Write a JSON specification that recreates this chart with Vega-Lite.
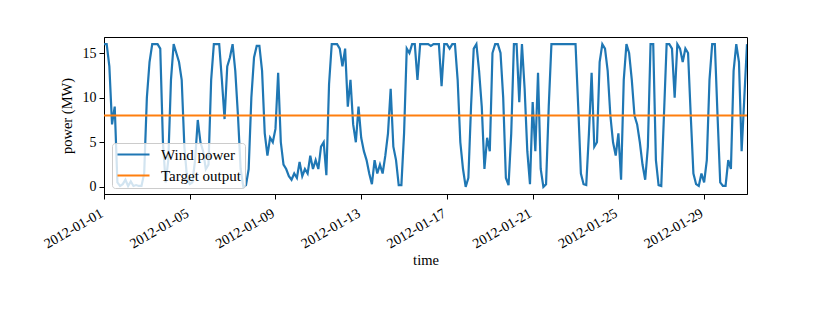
{
"$schema": "https://vega.github.io/schema/vega-lite/v6.json",
"width": 643, "height": 157,
"autosize": {"type": "none"},
"padding": {"left": 104, "top": 37, "right": 83, "bottom": 118},
"background": "white",
"config": {
  "view": {"stroke": "black", "strokeWidth": 1},
  "axis": {"grid": false, "domainColor": "black", "tickColor": "black", "labelColor": "black", "titleColor": "black",
           "labelFont": "Liberation Serif", "titleFont": "Liberation Serif", "labelFontSize": 14, "titleFontSize": 14.5,
           "titleFontWeight": "normal", "tickSize": 5, "domainWidth": 1, "tickWidth": 1},
  "legend": {"labelFont": "Liberation Serif", "labelFontSize": 15, "labelColor": "black"}
},
"layer": [
  {
    "data": {"values": [
{"t":"2012-01-01T00:00","p":16},{"t":"2012-01-01T03:00","p":16},{"t":"2012-01-01T06:00","p":13.5},{"t":"2012-01-01T09:00","p":7},{"t":"2012-01-01T12:00","p":9},{"t":"2012-01-01T15:00","p":0.5},{"t":"2012-01-01T18:00","p":0.1},{"t":"2012-01-01T21:00","p":0.3},
{"t":"2012-01-02T00:00","p":0.8},{"t":"2012-01-02T03:00","p":0.1},{"t":"2012-01-02T06:00","p":0.6},{"t":"2012-01-02T09:00","p":0.1},{"t":"2012-01-02T12:00","p":0.2},{"t":"2012-01-02T15:00","p":0.1},{"t":"2012-01-02T18:00","p":0.1},{"t":"2012-01-02T21:00","p":1.5},
{"t":"2012-01-03T00:00","p":10},{"t":"2012-01-03T03:00","p":14},{"t":"2012-01-03T06:00","p":16},{"t":"2012-01-03T09:00","p":16},{"t":"2012-01-03T12:00","p":16},{"t":"2012-01-03T15:00","p":15.5},{"t":"2012-01-03T18:00","p":5},{"t":"2012-01-03T21:00","p":0.5},
{"t":"2012-01-04T00:00","p":3},{"t":"2012-01-04T03:00","p":12},{"t":"2012-01-04T06:00","p":16},{"t":"2012-01-04T09:00","p":15},{"t":"2012-01-04T12:00","p":14},{"t":"2012-01-04T15:00","p":12},{"t":"2012-01-04T18:00","p":4.5},{"t":"2012-01-04T21:00","p":1},
{"t":"2012-01-05T00:00","p":0.3},{"t":"2012-01-05T03:00","p":0.5},{"t":"2012-01-05T06:00","p":3},{"t":"2012-01-05T09:00","p":7.5},{"t":"2012-01-05T12:00","p":5},{"t":"2012-01-05T15:00","p":4},{"t":"2012-01-05T18:00","p":2},{"t":"2012-01-05T21:00","p":2.5},
{"t":"2012-01-06T00:00","p":12},{"t":"2012-01-06T03:00","p":16},{"t":"2012-01-06T06:00","p":16},{"t":"2012-01-06T09:00","p":16},{"t":"2012-01-06T12:00","p":12},{"t":"2012-01-06T15:00","p":7.6},{"t":"2012-01-06T18:00","p":13.5},{"t":"2012-01-06T21:00","p":14.5},
{"t":"2012-01-07T00:00","p":16},{"t":"2012-01-07T03:00","p":13},{"t":"2012-01-07T06:00","p":8},{"t":"2012-01-07T09:00","p":2},{"t":"2012-01-07T12:00","p":0},{"t":"2012-01-07T15:00","p":0.2},{"t":"2012-01-07T18:00","p":2},{"t":"2012-01-07T21:00","p":10},
{"t":"2012-01-08T00:00","p":14.5},{"t":"2012-01-08T03:00","p":15.8},{"t":"2012-01-08T06:00","p":15.8},{"t":"2012-01-08T09:00","p":13},{"t":"2012-01-08T12:00","p":6},{"t":"2012-01-08T15:00","p":3.5},{"t":"2012-01-08T18:00","p":5.5},{"t":"2012-01-08T21:00","p":5},
{"t":"2012-01-09T00:00","p":6.5},{"t":"2012-01-09T03:00","p":12.8},{"t":"2012-01-09T06:00","p":5},{"t":"2012-01-09T09:00","p":2.5},{"t":"2012-01-09T12:00","p":2},{"t":"2012-01-09T15:00","p":1.2},{"t":"2012-01-09T18:00","p":0.8},{"t":"2012-01-09T21:00","p":1.5},
{"t":"2012-01-10T00:00","p":1},{"t":"2012-01-10T03:00","p":2.8},{"t":"2012-01-10T06:00","p":1.2},{"t":"2012-01-10T09:00","p":2},{"t":"2012-01-10T12:00","p":1.5},{"t":"2012-01-10T15:00","p":3.5},{"t":"2012-01-10T18:00","p":2},{"t":"2012-01-10T21:00","p":3},
{"t":"2012-01-11T00:00","p":2},{"t":"2012-01-11T03:00","p":4.5},{"t":"2012-01-11T06:00","p":5},{"t":"2012-01-11T09:00","p":1.3},{"t":"2012-01-11T12:00","p":11.5},{"t":"2012-01-11T15:00","p":16},{"t":"2012-01-11T18:00","p":16},{"t":"2012-01-11T21:00","p":16},
{"t":"2012-01-12T00:00","p":15.5},{"t":"2012-01-12T03:00","p":13.5},{"t":"2012-01-12T06:00","p":15.5},{"t":"2012-01-12T09:00","p":9},{"t":"2012-01-12T12:00","p":12},{"t":"2012-01-12T15:00","p":7},{"t":"2012-01-12T18:00","p":5},{"t":"2012-01-12T21:00","p":9},
{"t":"2012-01-13T00:00","p":5.5},{"t":"2012-01-13T03:00","p":4},{"t":"2012-01-13T06:00","p":3},{"t":"2012-01-13T09:00","p":1.5},{"t":"2012-01-13T12:00","p":0.3},{"t":"2012-01-13T15:00","p":3},{"t":"2012-01-13T18:00","p":1.5},{"t":"2012-01-13T21:00","p":2.5},
{"t":"2012-01-14T00:00","p":1.5},{"t":"2012-01-14T03:00","p":3.5},{"t":"2012-01-14T06:00","p":6},{"t":"2012-01-14T09:00","p":11},{"t":"2012-01-14T12:00","p":4.5},{"t":"2012-01-14T15:00","p":3},{"t":"2012-01-14T18:00","p":0.2},{"t":"2012-01-14T21:00","p":0.2},
{"t":"2012-01-15T00:00","p":6},{"t":"2012-01-15T03:00","p":15.5},{"t":"2012-01-15T06:00","p":15},{"t":"2012-01-15T09:00","p":16},{"t":"2012-01-15T12:00","p":16},{"t":"2012-01-15T15:00","p":12},{"t":"2012-01-15T18:00","p":16},{"t":"2012-01-15T21:00","p":16},
{"t":"2012-01-16T00:00","p":16},{"t":"2012-01-16T03:00","p":16},{"t":"2012-01-16T06:00","p":15.8},{"t":"2012-01-16T09:00","p":16},{"t":"2012-01-16T12:00","p":16},{"t":"2012-01-16T15:00","p":16},{"t":"2012-01-16T18:00","p":11.3},{"t":"2012-01-16T21:00","p":16},
{"t":"2012-01-17T00:00","p":16},{"t":"2012-01-17T03:00","p":15.5},{"t":"2012-01-17T06:00","p":16},{"t":"2012-01-17T09:00","p":16},{"t":"2012-01-17T12:00","p":12},{"t":"2012-01-17T15:00","p":5},{"t":"2012-01-17T18:00","p":2},{"t":"2012-01-17T21:00","p":0},
{"t":"2012-01-18T00:00","p":1},{"t":"2012-01-18T03:00","p":9},{"t":"2012-01-18T06:00","p":15.5},{"t":"2012-01-18T09:00","p":16},{"t":"2012-01-18T12:00","p":13},{"t":"2012-01-18T15:00","p":9},{"t":"2012-01-18T18:00","p":2},{"t":"2012-01-18T21:00","p":5.5},
{"t":"2012-01-19T00:00","p":4},{"t":"2012-01-19T03:00","p":15},{"t":"2012-01-19T06:00","p":16},{"t":"2012-01-19T09:00","p":16},{"t":"2012-01-19T12:00","p":15},{"t":"2012-01-19T15:00","p":10},{"t":"2012-01-19T18:00","p":1},{"t":"2012-01-19T21:00","p":0.2},
{"t":"2012-01-20T00:00","p":6},{"t":"2012-01-20T03:00","p":16},{"t":"2012-01-20T06:00","p":16},{"t":"2012-01-20T09:00","p":9.5},{"t":"2012-01-20T12:00","p":16},{"t":"2012-01-20T15:00","p":11},{"t":"2012-01-20T18:00","p":4},{"t":"2012-01-20T21:00","p":0.3},
{"t":"2012-01-21T00:00","p":9.5},{"t":"2012-01-21T03:00","p":4},{"t":"2012-01-21T06:00","p":12.8},{"t":"2012-01-21T09:00","p":2},{"t":"2012-01-21T12:00","p":0},{"t":"2012-01-21T15:00","p":0.3},{"t":"2012-01-21T18:00","p":9},{"t":"2012-01-21T21:00","p":16},
{"t":"2012-01-22T00:00","p":16},{"t":"2012-01-22T03:00","p":16},{"t":"2012-01-22T06:00","p":16},{"t":"2012-01-22T09:00","p":16},{"t":"2012-01-22T12:00","p":16},{"t":"2012-01-22T15:00","p":16},{"t":"2012-01-22T18:00","p":16},{"t":"2012-01-22T21:00","p":16},
{"t":"2012-01-23T00:00","p":16},{"t":"2012-01-23T03:00","p":9},{"t":"2012-01-23T06:00","p":1.5},{"t":"2012-01-23T09:00","p":0.3},{"t":"2012-01-23T12:00","p":0.2},{"t":"2012-01-23T15:00","p":6},{"t":"2012-01-23T18:00","p":12.8},{"t":"2012-01-23T21:00","p":4.5},
{"t":"2012-01-24T00:00","p":5},{"t":"2012-01-24T03:00","p":14},{"t":"2012-01-24T06:00","p":16},{"t":"2012-01-24T09:00","p":15.5},{"t":"2012-01-24T12:00","p":13},{"t":"2012-01-24T15:00","p":8},{"t":"2012-01-24T18:00","p":5},{"t":"2012-01-24T21:00","p":3.5},
{"t":"2012-01-25T00:00","p":6},{"t":"2012-01-25T03:00","p":0.8},{"t":"2012-01-25T06:00","p":12},{"t":"2012-01-25T09:00","p":16},{"t":"2012-01-25T12:00","p":15},{"t":"2012-01-25T15:00","p":12},{"t":"2012-01-25T18:00","p":8},{"t":"2012-01-25T21:00","p":7},
{"t":"2012-01-26T00:00","p":5},{"t":"2012-01-26T03:00","p":2.5},{"t":"2012-01-26T06:00","p":0.8},{"t":"2012-01-26T09:00","p":4.5},{"t":"2012-01-26T12:00","p":16},{"t":"2012-01-26T15:00","p":16},{"t":"2012-01-26T18:00","p":3},{"t":"2012-01-26T21:00","p":0.2},
{"t":"2012-01-27T00:00","p":0.1},{"t":"2012-01-27T03:00","p":8},{"t":"2012-01-27T06:00","p":16},{"t":"2012-01-27T09:00","p":16},{"t":"2012-01-27T12:00","p":15.5},{"t":"2012-01-27T15:00","p":10},{"t":"2012-01-27T18:00","p":16},{"t":"2012-01-27T21:00","p":15.5},
{"t":"2012-01-28T00:00","p":14},{"t":"2012-01-28T03:00","p":15.5},{"t":"2012-01-28T06:00","p":15},{"t":"2012-01-28T09:00","p":8},{"t":"2012-01-28T12:00","p":1.5},{"t":"2012-01-28T15:00","p":0.3},{"t":"2012-01-28T18:00","p":0.1},{"t":"2012-01-28T21:00","p":1.5},
{"t":"2012-01-29T00:00","p":0.5},{"t":"2012-01-29T03:00","p":3},{"t":"2012-01-29T06:00","p":12},{"t":"2012-01-29T09:00","p":16},{"t":"2012-01-29T12:00","p":16},{"t":"2012-01-29T15:00","p":8},{"t":"2012-01-29T18:00","p":0.5},{"t":"2012-01-29T21:00","p":0.1},
{"t":"2012-01-30T00:00","p":0.1},{"t":"2012-01-30T03:00","p":3},{"t":"2012-01-30T06:00","p":2},{"t":"2012-01-30T09:00","p":13},{"t":"2012-01-30T12:00","p":16},{"t":"2012-01-30T15:00","p":14},{"t":"2012-01-30T18:00","p":4},{"t":"2012-01-30T21:00","p":10},
{"t":"2012-01-31T00:00","p":16}
    ]},
    "mark": {"type": "line", "strokeWidth": 2.2, "clip": true},
    "encoding": {
      "x": {"field": "t", "type": "temporal",
            "scale": {"domain": [{"year": 2012, "month": 1, "date": 1}, {"year": 2012, "month": 1, "date": 31}], "nice": false},
            "axis": {"title": "time", "format": "%Y-%m-%d", "labelAngle": -30, "labelAlign": "right", "labelBaseline": "top",
                     "labelPadding": 7, "labelOffset": -6, "titlePadding": 3,
                     "values": [{"year": 2012, "month": 1, "date": 1}, {"year": 2012, "month": 1, "date": 5}, {"year": 2012, "month": 1, "date": 9},
                                {"year": 2012, "month": 1, "date": 13}, {"year": 2012, "month": 1, "date": 17}, {"year": 2012, "month": 1, "date": 21},
                                {"year": 2012, "month": 1, "date": 25}, {"year": 2012, "month": 1, "date": 29}]}},
      "y": {"field": "p", "type": "quantitative",
            "scale": {"domain": [-0.8, 16.8], "nice": false, "zero": false},
            "axis": {"title": "power (MW)", "values": [0, 5, 10, 15], "labelPadding": 3, "titlePadding": 8}},
      "color": {"datum": "Wind power",
                "scale": {"domain": ["Wind power", "Target output"], "range": ["#1f77b4", "#ff7f0e"]},
                "legend": {"title": null, "orient": "none", "legendX": 8, "legendY": 106,
                           "symbolType": "M-3,0H3", "symbolSize": 114, "symbolStrokeWidth": 2.2, "symbolOffset": 10,
                           "labelOffset": 20, "padding": 4, "rowPadding": 5,
                           "fillColor": "rgba(255,255,255,0.8)", "strokeColor": "#cccccc", "cornerRadius": 3}}
    }
  },
  {
    "data": {"values": [{"target": 8}]},
    "mark": {"type": "rule", "strokeWidth": 2.2},
    "encoding": {
      "y": {"field": "target", "type": "quantitative"},
      "color": {"datum": "Target output"}
    }
  }
]
}
